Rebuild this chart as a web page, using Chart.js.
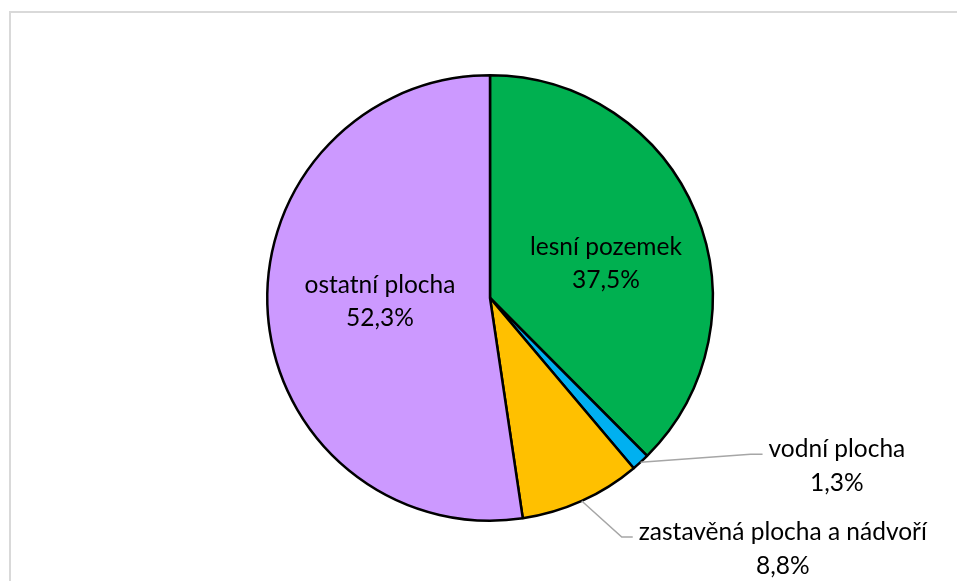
<!DOCTYPE html>
<html>
<head>
<meta charset="utf-8">
<script src="https://cdn.jsdelivr.net/npm/chart.js@4.4.0/dist/chart.umd.min.js"></script>
<style>
  html, body { margin: 0; padding: 0; background: #fff; }
  #wrap { position: relative; width: 957px; height: 581px; }
</style>
</head>
<body>
<div id="wrap"><canvas id="myChartPie" width="957" height="581"></canvas></div>
<script>
// data
var categories = ['lesní pozemek', 'vodní plocha', 'zastavěná plocha a nádvoří', 'ostatní plocha'];
var values = [37.5, 1.3, 8.8, 52.3];
var colors = ['#00B050', '#00B0F0', '#FFC000', '#CC99FF'];

// how each label is placed: inside the slice or outside with a leader line
var labelMode = ['inside', 'outside', 'outside', 'inside'];
var insideShift = [[13, 8], [0, 0], [0, 0], [1, -5]];
var leaderBends = [null, [110, -8], [40, 36], null];
var leaderTail = [null, 12, 11, null];

var FONT = '24.5px Lato, "Open Sans", sans-serif';
var LINE_H = 33;

function fmt(v) {
    return v.toFixed(1).replace('.', ',') + '%';
}

var labelPlugin = {
    id: 'pieLabels',
    beforeDraw: function(chart) {
        var ctx = chart.ctx;
        ctx.save();
        ctx.fillStyle = '#fff';
        ctx.fillRect(0, 0, chart.width, chart.height);
        ctx.strokeStyle = '#D9D9D9';
        ctx.lineWidth = 2;
        ctx.strokeRect(10, 12, 1200, 1200);
        ctx.restore();
    },
    afterDatasetsDraw: function(chart) {
        var ctx = chart.ctx;
        var meta = chart.getDatasetMeta(0);
        ctx.save();
        ctx.font = FONT;
        ctx.fillStyle = '#000';
        ctx.textBaseline = 'middle';
        ctx.textAlign = 'center';
        meta.data.forEach(function(arc, i) {
            var name = categories[i];
            var pct = fmt(values[i]);
            if (labelMode[i] == 'inside') {
                var p = arc.tooltipPosition();
                var cx = p.x + insideShift[i][0];
                var cy = p.y + insideShift[i][1];
                ctx.fillText(name, cx, cy - LINE_H / 2);
                ctx.fillText(pct, cx, cy + LINE_H / 2);
            } else {
                var mid = (arc.startAngle + arc.endAngle) / 2;
                var sx = arc.x + Math.cos(mid) * arc.outerRadius;
                var sy = arc.y + Math.sin(mid) * arc.outerRadius;
                var bx = sx + leaderBends[i][0];
                var by = sy + leaderBends[i][1];
                var ex = bx + leaderTail[i];
                ctx.strokeStyle = '#A6A6A6';
                ctx.lineWidth = 1.5;
                ctx.beginPath();
                ctx.moveTo(sx, sy);
                ctx.lineTo(bx, by);
                ctx.lineTo(ex, by);
                ctx.stroke();
                var w = Math.max(ctx.measureText(name).width, ctx.measureText(pct).width);
                var tx = ex + 6 + w / 2;
                var ty = by - 5;
                ctx.fillText(name, tx, ty);
                ctx.fillText(pct, tx, ty + LINE_H + 1);
            }
        });
        ctx.restore();
    }
};

var ctxPie = document.getElementById('myChartPie');
var myChartPie = new Chart(ctxPie, {
    type: 'pie',
    data: {
        labels: categories,
        datasets: [{
            data: values,
            backgroundColor: colors,
            borderColor: '#000',
            borderWidth: 2.5
        }]
    },
    options: {
        responsive: false,
        animation: false,
        layout: {
            padding: { left: 23, right: 0, top: 74, bottom: 59 }
        },
        plugins: {
            legend: { display: false },
            tooltip: { enabled: false }
        }
    },
    plugins: [labelPlugin]
});
</script>
</body>
</html>
